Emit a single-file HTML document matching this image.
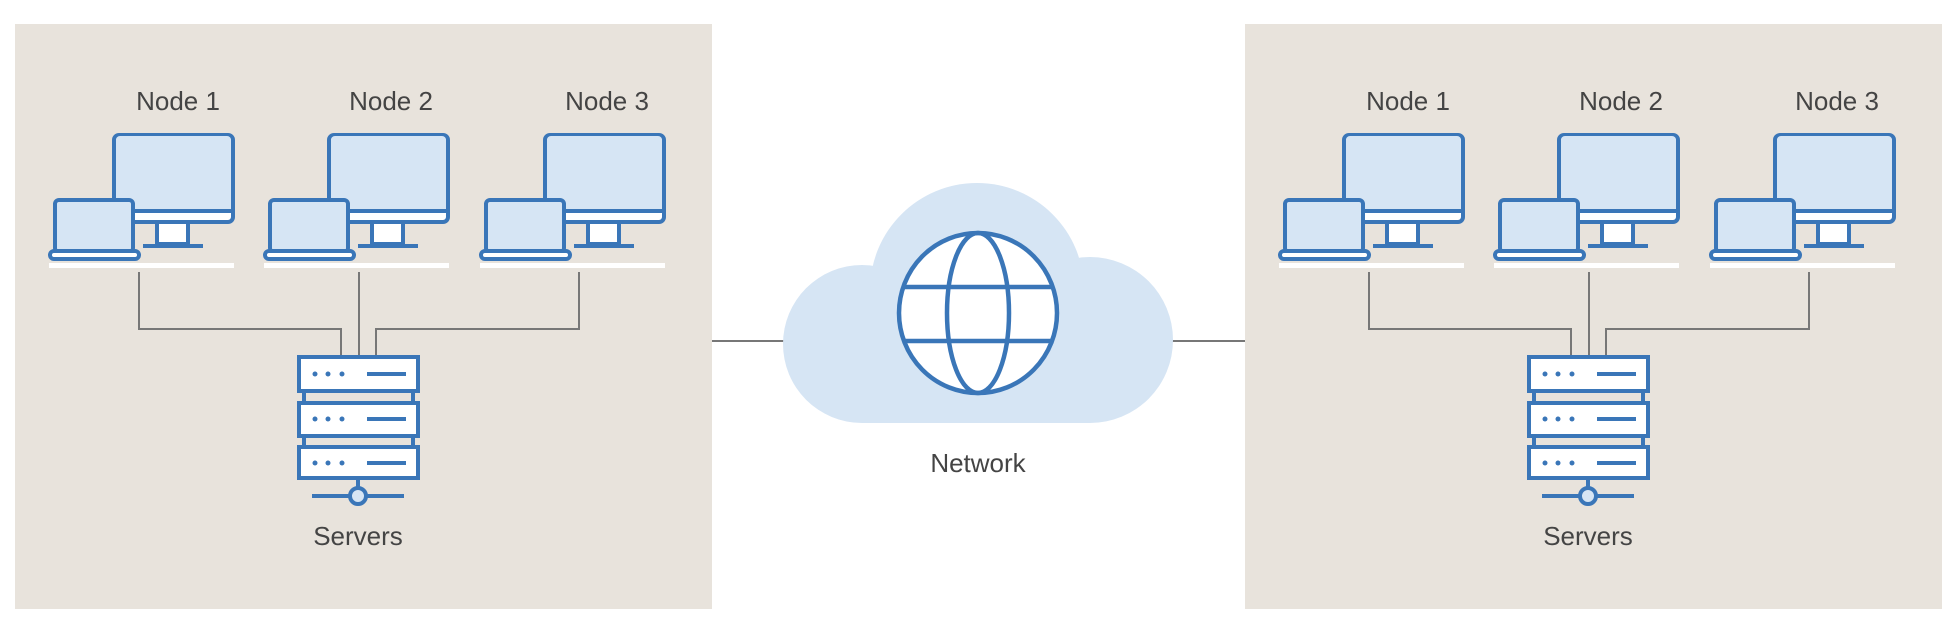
<!DOCTYPE html>
<html><head><meta charset="utf-8"><style>
html,body{margin:0;padding:0;background:#fff;}
svg{display:block}
text{font-family:"Liberation Sans",sans-serif;fill:#444;font-size:26px;text-anchor:middle}
</style></head><body>
<svg width="1960" height="626" viewBox="0 0 1960 626" xmlns="http://www.w3.org/2000/svg">
<defs>
<g id="node">
  <rect x="114" y="135" width="119" height="87" rx="5" fill="#fff" stroke="#3a76b8" stroke-width="4"/>
  <path d="M116 211 V140 a4 4 0 0 1 4 -4 H227 a4 4 0 0 1 4 4 V211 Z" fill="#d6e5f4"/>
  <line x1="114" y1="211" x2="233" y2="211" stroke="#3a76b8" stroke-width="4"/>
  <rect x="157" y="222" width="31" height="22" fill="#fff" stroke="#3a76b8" stroke-width="4"/>
  <line x1="143" y1="246" x2="203" y2="246" stroke="#3a76b8" stroke-width="4"/>
  <rect x="55" y="200" width="78" height="52" rx="4" fill="#d6e5f4" stroke="#3a76b8" stroke-width="4"/>
  <rect x="50" y="251" width="89" height="8" rx="4" fill="#fff" stroke="#3a76b8" stroke-width="4"/>
  <rect x="49" y="263" width="185" height="5" fill="#fff"/>
</g>
<g id="server">
  <rect x="299" y="357" width="119" height="34" fill="#fff" stroke="#3a76b8" stroke-width="4"/>
  <rect x="299" y="403" width="119" height="33" fill="#fff" stroke="#3a76b8" stroke-width="4"/>
  <rect x="299" y="447" width="119" height="31" fill="#fff" stroke="#3a76b8" stroke-width="4"/>
  <g stroke="#3a76b8" stroke-width="4">
    <line x1="304" y1="391" x2="304" y2="403"/><line x1="413" y1="391" x2="413" y2="403"/>
    <line x1="304" y1="436" x2="304" y2="447"/><line x1="413" y1="436" x2="413" y2="447"/>
    <line x1="367" y1="374" x2="406" y2="374"/><line x1="367" y1="419" x2="406" y2="419"/><line x1="367" y1="463" x2="406" y2="463"/>
    <line x1="358" y1="478" x2="358" y2="488"/>
    <line x1="312" y1="496" x2="404" y2="496"/>
  </g>
  <g fill="#3a76b8">
    <circle cx="315" cy="374" r="2.5"/><circle cx="328" cy="374" r="2.5"/><circle cx="342" cy="374" r="2.5"/>
    <circle cx="315" cy="419" r="2.5"/><circle cx="328" cy="419" r="2.5"/><circle cx="342" cy="419" r="2.5"/>
    <circle cx="315" cy="463" r="2.5"/><circle cx="328" cy="463" r="2.5"/><circle cx="342" cy="463" r="2.5"/>
  </g>
  <circle cx="358" cy="496" r="8" fill="#d6e5f4" stroke="#3a76b8" stroke-width="4"/>
</g>
<g id="panel">
  <rect x="15" y="24" width="697" height="585" fill="#e8e3dc"/>
  <g fill="none" stroke="#777" stroke-width="2">
    <polyline points="139,272 139,329 341,329 341,357"/>
    <line x1="359" y1="272" x2="359" y2="357"/>
    <polyline points="579,272 579,329 376,329 376,357"/>
  </g>
  <use href="#node"/>
  <use href="#node" transform="translate(215,0)"/>
  <use href="#node" transform="translate(431,0)"/>
  <use href="#server"/>
  <text x="178" y="110">Node 1</text>
  <text x="391" y="110">Node 2</text>
  <text x="607" y="110">Node 3</text>
  <text x="358" y="545">Servers</text>
</g>
</defs>
<use href="#panel"/>
<use href="#panel" transform="translate(1230,0)"/>
<g stroke="#777" stroke-width="2">
  <line x1="712" y1="341" x2="790" y2="341"/>
  <line x1="1168" y1="341" x2="1245" y2="341"/>
</g>
<g fill="#d6e5f4">
  <circle cx="862" cy="344" r="79"/>
  <circle cx="1090" cy="340" r="83"/>
  <circle cx="977" cy="290" r="107"/>
  <rect x="862" y="300" width="228" height="123"/>
</g>
<g fill="#fff" stroke="#3a76b8" stroke-width="4.5">
  <ellipse cx="978" cy="313" rx="79" ry="80"/>
</g>
<g fill="none" stroke="#3a76b8" stroke-width="4.5">
  <ellipse cx="978" cy="313" rx="31" ry="80"/>
  <line x1="903" y1="287" x2="1053" y2="287"/>
  <line x1="903" y1="341" x2="1053" y2="341"/>
</g>
<text x="978" y="472">Network</text>
</svg>
</body></html>
